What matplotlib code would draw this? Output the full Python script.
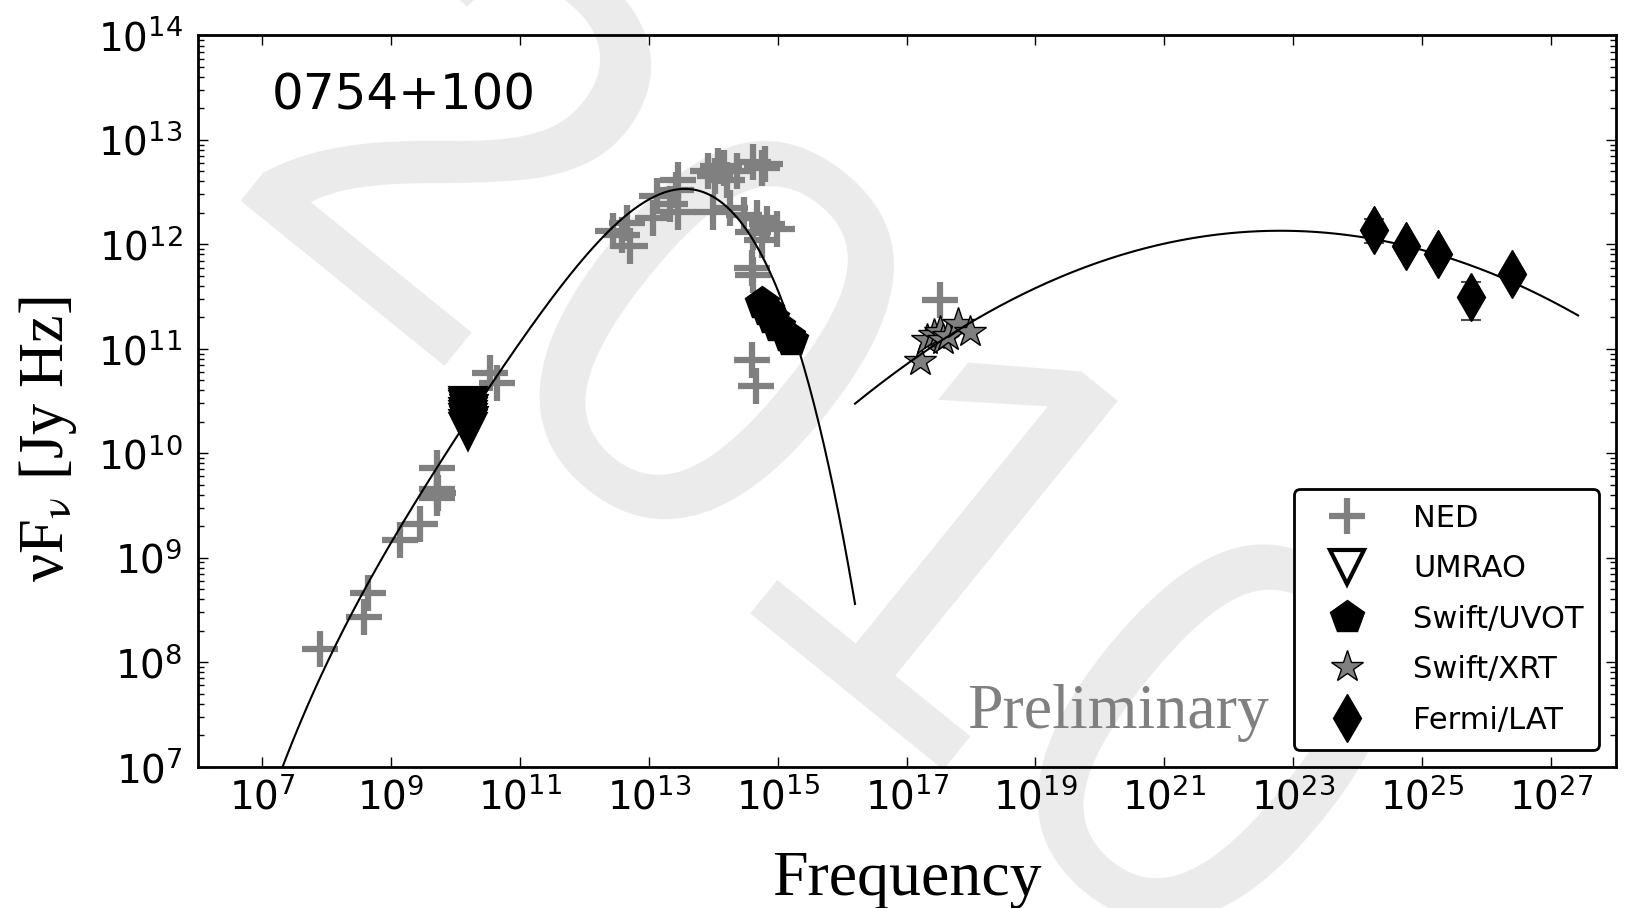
import numpy as np
import matplotlib
matplotlib.use("Agg")
import matplotlib.pyplot as plt
from matplotlib.ticker import NullLocator, LogLocator

source_name = "0754+100"

# NED archival points: log10(nu/Hz), log10(nuFnu / Jy Hz)
ned_lognu = [7.90, 8.64, 8.58, 9.14, 9.45, 9.71, 9.71, 9.72, 9.73, 10.54, 10.64,
             12.45, 12.58, 12.66, 12.71, 13.07, 13.12, 13.33, 13.42, 13.46, 13.46,
             13.92, 14.03, 14.07, 14.16, 14.21, 14.37, 14.62, 14.75, 14.80,
             14.00, 14.26, 14.47, 14.68, 14.83, 14.99, 14.62, 14.75,
             14.60, 14.62, 14.60, 14.66, 17.52]
ned_logflux = [8.13, 8.66, 8.43, 9.17, 9.32, 9.86, 9.66, 9.57, 9.62, 10.77, 10.67,
               12.13, 12.09, 12.20, 11.98, 12.25, 12.46, 12.39, 12.52, 12.62, 12.31,
               12.70, 12.65, 12.75, 12.73, 12.62, 12.70, 12.79, 12.73, 12.77,
               12.31, 12.35, 12.28, 12.25, 12.19, 12.15, 12.12, 12.04,
               11.77, 11.71, 10.89, 10.64, 11.47]

# UMRAO radio monitoring
umrao_lognu = [10.20, 10.20, 10.21, 10.20, 10.19, 10.20, 10.21, 10.20, 10.20, 10.20]
umrao_logflux = [10.21, 10.24, 10.27, 10.30, 10.33, 10.36, 10.39, 10.42, 10.44, 10.46]

# Swift/UVOT
uvot_lognu = [14.76, 14.83, 14.91, 15.01, 15.16, 15.21]
uvot_logflux = [11.44, 11.37, 11.29, 11.22, 11.12, 11.08]

# Swift/XRT
xrt_lognu = [17.21, 17.31, 17.42, 17.52, 17.57, 17.65, 17.80, 17.99]
xrt_logflux = [10.88, 11.08, 11.13, 11.16, 11.08, 11.12, 11.24, 11.16]

# Fermi/LAT with asymmetric errors (dex)
lat_lognu = [24.26, 24.75, 25.25, 25.75, 26.40]
lat_logflux = [12.14, 11.98, 11.91, 11.50, 11.72]
lat_err_lo = [0.13, 0.05, 0.06, 0.22, 0.05]
lat_err_hi = [0.10, 0.05, 0.05, 0.14, 0.05]

# synchrotron bump: 4th order polynomial in log-log space
sync_poly = [-0.00495449, 0.202714, -3.1415, 22.7883, -56.7628]
sync_range = (6.0, 16.2)

# inverse Compton bump: log-parabola
ic_peak_lognu = 22.8
ic_peak_logflux = 12.13
ic_curvature = 0.038
ic_range = (16.2, 27.42)

x_tick_exp = [7, 9, 11, 13, 15, 17, 19, 21, 23, 25, 27]
y_tick_exp = [7, 8, 9, 10, 11, 12, 13, 14]

plt.rcParams["font.family"] = "DejaVu Sans"
plt.rcParams["mathtext.fontset"] = "dejavusans"

fig = plt.figure(figsize=(16.31, 9.08), dpi=100)
ax = fig.add_axes([0.1212, 0.1557, 0.8693, 0.8053])
ax.set_facecolor("none")

# background year stamp
fig.text(0.492, 0.462, "2010", fontsize=415, color="#ebebeb", rotation=-39,
         ha="center", va="center", rotation_mode="anchor",
         family="Liberation Sans", zorder=-1)


def lin(a):
    return 10.0 ** np.asarray(a)


ax.plot(lin(ned_lognu), lin(ned_logflux), "+", color="0.5", ms=26, mew=4.5,
        ls="none", label="NED", zorder=2)
ax.plot(lin(umrao_lognu), lin(umrao_logflux), "v", mfc="k", mec="k", ms=24,
        mew=3, ls="none", label="UMRAO", zorder=3)
ax.plot(lin(uvot_lognu), lin(uvot_logflux), "p", color="k", ms=25,
        ls="none", label="Swift/UVOT", zorder=3)
ax.plot(lin(xrt_lognu), lin(xrt_logflux), "*", mfc="0.5", mec="k", mew=1,
        ms=24, ls="none", label="Swift/XRT", zorder=3)

lat_y = lin(lat_logflux)
lat_yerr = [lat_y - lin(np.array(lat_logflux) - np.array(lat_err_lo)),
            lin(np.array(lat_logflux) + np.array(lat_err_hi)) - lat_y]
ax.errorbar(lin(lat_lognu), lat_y, yerr=lat_yerr, fmt="none", ecolor="0.3",
            elinewidth=1.5, capsize=7, capthick=1.5, zorder=3)
ax.plot(lin(lat_lognu), lat_y, "d", color="k", ms=24, ls="none",
        label="Fermi/LAT", zorder=4)

xs = np.linspace(*sync_range, 400)
ax.plot(lin(xs), lin(np.polyval(sync_poly, xs)), color="k", lw=1.5, zorder=5)

xi = np.linspace(*ic_range, 300)
ax.plot(lin(xi), lin(ic_peak_logflux - ic_curvature * (xi - ic_peak_lognu) ** 2),
        color="k", lw=1.5, zorder=5)

ax.set_xscale("log")
ax.set_yscale("log")
ax.set_xlim(1e6, 1e28)
ax.set_ylim(1e7, 1e14)
ax.set_xticks([10.0 ** e for e in x_tick_exp])
ax.xaxis.set_minor_locator(NullLocator())
ax.set_yticks([10.0 ** e for e in y_tick_exp])
ax.yaxis.set_minor_locator(LogLocator(base=10, subs=np.arange(2, 10), numticks=20))
ax.tick_params(which="both", direction="in", top=True, right=True, labelsize=28)
ax.tick_params(which="major", length=7, width=1)
ax.tick_params(which="minor", length=4, width=1)
ax.tick_params(axis="y", pad=11)
ax.tick_params(axis="x", pad=8)
for sp in ax.spines.values():
    sp.set_linewidth(2)

ax.set_xlabel("Frequency", family="Liberation Serif", fontsize=46, va="top")
ax.xaxis.set_label_coords(0.5, -0.115)
ax.set_ylabel("νF$_{\\mathrm{ν}}$ [Jy Hz]", family="Liberation Serif",
              math_fontfamily="stix", fontsize=45)
ax.yaxis.set_label_coords(-0.084, 0.448)

ax.text(0.0525, 0.899, source_name, transform=ax.transAxes, fontsize=36,
        va="baseline")
ax.text(0.5426, 0.0528, "Preliminary", transform=ax.transAxes, fontsize=46,
        family="Liberation Serif", color="0.5", va="baseline")

leg = ax.legend(loc="lower right", numpoints=1, fontsize=22, fancybox=True,
                framealpha=1, edgecolor="k", borderpad=0.5, labelspacing=0.7,
                handlelength=2.5, handletextpad=0.9, borderaxespad=0.55)
leg.get_frame().set_linewidth(2)
leg.legend_handles[1].set_markerfacecolor("white")
leg.set_zorder(10)

fig.savefig("out.png", dpi=100)
